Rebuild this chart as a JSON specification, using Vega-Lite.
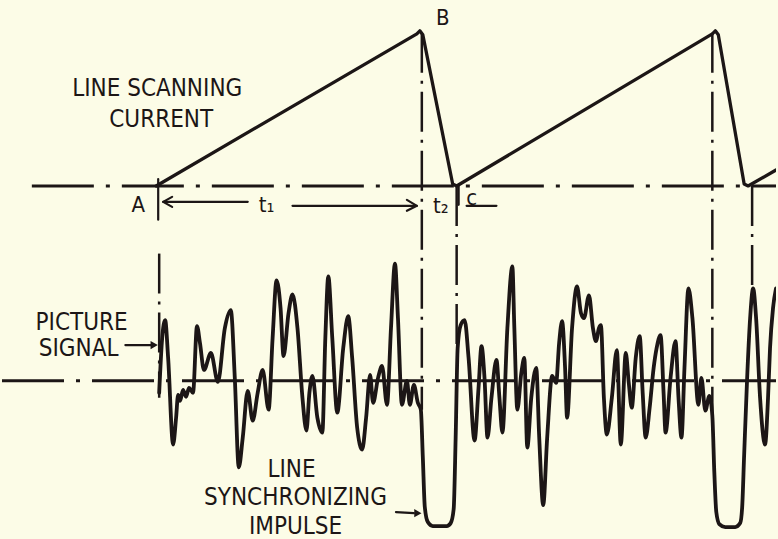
{
  "$schema": "https://vega.github.io/schema/vega-lite/v6.json",
  "width": 778,
  "height": 539,
  "autosize": {"type": "fit", "contains": "padding"},
  "padding": 0,
  "background": "#fcfce7",
  "config": {"view": {"stroke": null}},
  "datasets": {
    "hbase": [
      {"id": "top", "x": 30, "x2": 778, "y": 187},
      {"id": "bottom", "x": 0, "x2": 778, "y": 383}
    ],
    "vdash": [
      {"id": "A", "x": 158, "y": 255, "y2": 400},
      {"id": "B", "x": 422, "y": 33, "y2": 412},
      {"id": "C", "x": 457, "y": 187, "y2": 350},
      {"id": "D", "x": 714, "y": 33, "y2": 418},
      {"id": "E", "x": 754, "y": 187, "y2": 300}
    ],
    "saw": [
      {"x": 155, "y": 187},
      {"x": 417, "y": 34},
      {"x": 420, "y": 31},
      {"x": 423, "y": 35},
      {"x": 453, "y": 185},
      {"x": 457, "y": 187},
      {"x": 714, "y": 34},
      {"x": 717, "y": 31},
      {"x": 720, "y": 35},
      {"x": 746, "y": 185},
      {"x": 750, "y": 187},
      {"x": 778, "y": 171}
    ],
    "signal": [
      {"x": 158, "y": 395}, {"x": 161, "y": 340}, {"x": 164, "y": 322}, {"x": 167, "y": 360},
      {"x": 172, "y": 447}, {"x": 175, "y": 420}, {"x": 177, "y": 397}, {"x": 179, "y": 403},
      {"x": 182, "y": 392}, {"x": 185, "y": 399}, {"x": 188, "y": 390}, {"x": 192, "y": 395},
      {"x": 196, "y": 328}, {"x": 199, "y": 345}, {"x": 203, "y": 372}, {"x": 210, "y": 355},
      {"x": 217, "y": 384}, {"x": 224, "y": 330}, {"x": 230, "y": 312}, {"x": 234, "y": 380},
      {"x": 238, "y": 470}, {"x": 242, "y": 440}, {"x": 247, "y": 393}, {"x": 252, "y": 423},
      {"x": 257, "y": 395}, {"x": 262, "y": 372}, {"x": 268, "y": 412}, {"x": 272, "y": 340},
      {"x": 276, "y": 282}, {"x": 280, "y": 310}, {"x": 283, "y": 358}, {"x": 288, "y": 315},
      {"x": 292, "y": 296}, {"x": 297, "y": 330}, {"x": 302, "y": 400}, {"x": 306, "y": 433},
      {"x": 309, "y": 395}, {"x": 312, "y": 378}, {"x": 317, "y": 420}, {"x": 322, "y": 435},
      {"x": 325, "y": 340}, {"x": 328, "y": 278}, {"x": 332, "y": 340}, {"x": 337, "y": 415},
      {"x": 343, "y": 350}, {"x": 348, "y": 318}, {"x": 352, "y": 360}, {"x": 357, "y": 430},
      {"x": 362, "y": 452}, {"x": 366, "y": 420}, {"x": 370, "y": 377}, {"x": 373, "y": 405},
      {"x": 378, "y": 380}, {"x": 382, "y": 368}, {"x": 387, "y": 407}, {"x": 391, "y": 330},
      {"x": 395, "y": 265}, {"x": 398, "y": 320}, {"x": 402, "y": 407}, {"x": 407, "y": 383},
      {"x": 410, "y": 407}, {"x": 414, "y": 387}, {"x": 418, "y": 405}, {"x": 421, "y": 412},
      {"x": 423, "y": 460}, {"x": 425, "y": 510}, {"x": 428, "y": 525}, {"x": 433, "y": 529},
      {"x": 447, "y": 529}, {"x": 451, "y": 526}, {"x": 454, "y": 512}, {"x": 456, "y": 440},
      {"x": 458, "y": 350}, {"x": 461, "y": 327}, {"x": 465, "y": 322}, {"x": 469, "y": 360},
      {"x": 475, "y": 443}, {"x": 479, "y": 390}, {"x": 482, "y": 348}, {"x": 485, "y": 380},
      {"x": 488, "y": 440}, {"x": 492, "y": 400}, {"x": 497, "y": 362}, {"x": 500, "y": 400},
      {"x": 503, "y": 435}, {"x": 508, "y": 330}, {"x": 513, "y": 268}, {"x": 515, "y": 330},
      {"x": 518, "y": 412}, {"x": 522, "y": 375}, {"x": 525, "y": 360}, {"x": 528, "y": 450},
      {"x": 532, "y": 400}, {"x": 537, "y": 370}, {"x": 540, "y": 440}, {"x": 544, "y": 508},
      {"x": 548, "y": 440}, {"x": 553, "y": 378}, {"x": 557, "y": 385}, {"x": 560, "y": 345},
      {"x": 563, "y": 323}, {"x": 566, "y": 370}, {"x": 568, "y": 420}, {"x": 573, "y": 330},
      {"x": 578, "y": 288}, {"x": 582, "y": 315}, {"x": 585, "y": 320}, {"x": 590, "y": 297},
      {"x": 594, "y": 330}, {"x": 597, "y": 343}, {"x": 600, "y": 330}, {"x": 602, "y": 327},
      {"x": 605, "y": 400}, {"x": 608, "y": 437}, {"x": 613, "y": 400}, {"x": 618, "y": 352},
      {"x": 622, "y": 447}, {"x": 627, "y": 355}, {"x": 630, "y": 385}, {"x": 633, "y": 410},
      {"x": 637, "y": 360}, {"x": 641, "y": 338}, {"x": 644, "y": 395}, {"x": 647, "y": 440},
      {"x": 651, "y": 410}, {"x": 655, "y": 370}, {"x": 658, "y": 350}, {"x": 662, "y": 337},
      {"x": 665, "y": 395}, {"x": 667, "y": 435}, {"x": 672, "y": 380}, {"x": 677, "y": 343},
      {"x": 680, "y": 400}, {"x": 683, "y": 440}, {"x": 686, "y": 370}, {"x": 690, "y": 290},
      {"x": 694, "y": 320}, {"x": 700, "y": 407}, {"x": 703, "y": 380}, {"x": 707, "y": 413},
      {"x": 711, "y": 398}, {"x": 714, "y": 418}, {"x": 716, "y": 475}, {"x": 718, "y": 515},
      {"x": 721, "y": 527}, {"x": 727, "y": 530}, {"x": 737, "y": 530}, {"x": 742, "y": 526},
      {"x": 744, "y": 510}, {"x": 746, "y": 457}, {"x": 749, "y": 380}, {"x": 752, "y": 320},
      {"x": 755, "y": 290}, {"x": 758, "y": 320}, {"x": 762, "y": 400}, {"x": 767, "y": 447},
      {"x": 770, "y": 400}, {"x": 772, "y": 350}, {"x": 775, "y": 310}, {"x": 778, "y": 290}
    ],
    "strokes": [
      {"id": "tickA", "i": 0, "x": 157, "y": 180}, {"id": "tickA", "i": 1, "x": 157, "y": 221},
      {"id": "t1L", "i": 0, "x": 162, "y": 203}, {"id": "t1L", "i": 1, "x": 247, "y": 203},
      {"id": "t1Lh", "i": 0, "x": 171, "y": 198}, {"id": "t1Lh", "i": 1, "x": 162, "y": 203}, {"id": "t1Lh", "i": 2, "x": 171, "y": 208},
      {"id": "t1R", "i": 0, "x": 292, "y": 207}, {"id": "t1R", "i": 1, "x": 417, "y": 207},
      {"id": "t1Rh", "i": 0, "x": 407, "y": 201}, {"id": "t1Rh", "i": 1, "x": 417, "y": 207}, {"id": "t1Rh", "i": 2, "x": 407, "y": 212},
      {"id": "cbr", "i": 0, "x": 459, "y": 187}, {"id": "cbr", "i": 1, "x": 459, "y": 206},
      {"id": "cline", "i": 0, "x": 467, "y": 207}, {"id": "cline", "i": 1, "x": 497, "y": 207},
      {"id": "psig", "i": 0, "x": 124, "y": 347}, {"id": "psig", "i": 1, "x": 150, "y": 347},
      {"id": "sync", "i": 0, "x": 396, "y": 515}, {"id": "sync", "i": 1, "x": 414, "y": 516}
    ],
    "heads": [
      {"x": 153, "y": 347},
      {"x": 418, "y": 516}
    ],
    "bigLabels": [
      {"text": "LINE SCANNING", "x": 156, "y": 97},
      {"text": "CURRENT", "x": 160, "y": 128},
      {"text": "PICTURE", "x": 80, "y": 332},
      {"text": "SIGNAL", "x": 77, "y": 358},
      {"text": "LINE", "x": 291, "y": 480},
      {"text": "SYNCHRONIZING", "x": 295, "y": 508},
      {"text": "IMPULSE", "x": 295, "y": 537}
    ],
    "smallLabels": [
      {"text": "A", "x": 137, "y": 213},
      {"text": "B", "x": 443, "y": 25},
      {"text": "t₁", "x": 266, "y": 213},
      {"text": "t₂", "x": 441, "y": 214},
      {"text": "c", "x": 472, "y": 206}
    ]
  },
  "layer": [
    {
      "data": {"name": "hbase"},
      "mark": {"type": "rule", "color": "#1c1616", "strokeWidth": 3, "strokeDash": [62, 12, 4, 12]},
      "encoding": {
        "x": {"field": "x", "type": "quantitative", "scale": {"domain": [0, 778], "nice": false, "zero": false}, "axis": null},
        "x2": {"field": "x2"},
        "y": {"field": "y", "type": "quantitative", "scale": {"domain": [0, 539], "reverse": true, "nice": false, "zero": false}, "axis": null}
      }
    },
    {
      "data": {"name": "vdash"},
      "mark": {"type": "rule", "color": "#1c1616", "strokeWidth": 2.5, "strokeDash": [40, 8, 3, 8]},
      "encoding": {
        "x": {"field": "x", "type": "quantitative", "scale": {"domain": [0, 778], "nice": false, "zero": false}, "axis": null},
        "y": {"field": "y", "type": "quantitative", "scale": {"domain": [0, 539], "reverse": true, "nice": false, "zero": false}, "axis": null},
        "y2": {"field": "y2"}
      }
    },
    {
      "data": {"name": "saw"},
      "mark": {"type": "line", "color": "#1c1616", "strokeWidth": 3.3, "strokeJoin": "round", "strokeCap": "round", "clip": true},
      "encoding": {
        "x": {"field": "x", "type": "quantitative", "scale": {"domain": [0, 778], "nice": false, "zero": false}, "axis": null},
        "y": {"field": "y", "type": "quantitative", "scale": {"domain": [0, 539], "reverse": true, "nice": false, "zero": false}, "axis": null}
      }
    },
    {
      "data": {"name": "signal"},
      "mark": {"type": "line", "color": "#1c1616", "strokeWidth": 3.8, "interpolate": "monotone", "strokeJoin": "round", "strokeCap": "round", "clip": true},
      "encoding": {
        "x": {"field": "x", "type": "quantitative", "scale": {"domain": [0, 778], "nice": false, "zero": false}, "axis": null},
        "y": {"field": "y", "type": "quantitative", "scale": {"domain": [0, 539], "reverse": true, "nice": false, "zero": false}, "axis": null}
      }
    },
    {
      "data": {"name": "strokes"},
      "mark": {"type": "line", "color": "#1c1616", "strokeWidth": 2.2, "strokeCap": "round", "strokeJoin": "round"},
      "encoding": {
        "x": {"field": "x", "type": "quantitative", "scale": {"domain": [0, 778], "nice": false, "zero": false}, "axis": null},
        "y": {"field": "y", "type": "quantitative", "scale": {"domain": [0, 539], "reverse": true, "nice": false, "zero": false}, "axis": null},
        "detail": {"field": "id", "type": "nominal"},
        "order": {"field": "i", "type": "quantitative"}
      }
    },
    {
      "data": {"name": "heads"},
      "mark": {"type": "point", "shape": "triangle-right", "filled": true, "size": 70, "color": "#1c1616", "opacity": 1},
      "encoding": {
        "x": {"field": "x", "type": "quantitative", "scale": {"domain": [0, 778], "nice": false, "zero": false}, "axis": null},
        "y": {"field": "y", "type": "quantitative", "scale": {"domain": [0, 539], "reverse": true, "nice": false, "zero": false}, "axis": null}
      }
    },
    {
      "data": {"name": "bigLabels"},
      "mark": {"type": "text", "font": "DejaVu Sans Condensed, DejaVu Sans, sans-serif", "fontSize": 24, "align": "center", "baseline": "alphabetic", "color": "#1c1616"},
      "encoding": {
        "x": {"field": "x", "type": "quantitative", "scale": {"domain": [0, 778], "nice": false, "zero": false}, "axis": null},
        "y": {"field": "y", "type": "quantitative", "scale": {"domain": [0, 539], "reverse": true, "nice": false, "zero": false}, "axis": null},
        "text": {"field": "text", "type": "nominal"}
      }
    },
    {
      "data": {"name": "smallLabels"},
      "mark": {"type": "text", "font": "DejaVu Sans Condensed, DejaVu Sans, sans-serif", "fontSize": 22, "align": "center", "baseline": "alphabetic", "color": "#1c1616"},
      "encoding": {
        "x": {"field": "x", "type": "quantitative", "scale": {"domain": [0, 778], "nice": false, "zero": false}, "axis": null},
        "y": {"field": "y", "type": "quantitative", "scale": {"domain": [0, 539], "reverse": true, "nice": false, "zero": false}, "axis": null},
        "text": {"field": "text", "type": "nominal"}
      }
    }
  ]
}
